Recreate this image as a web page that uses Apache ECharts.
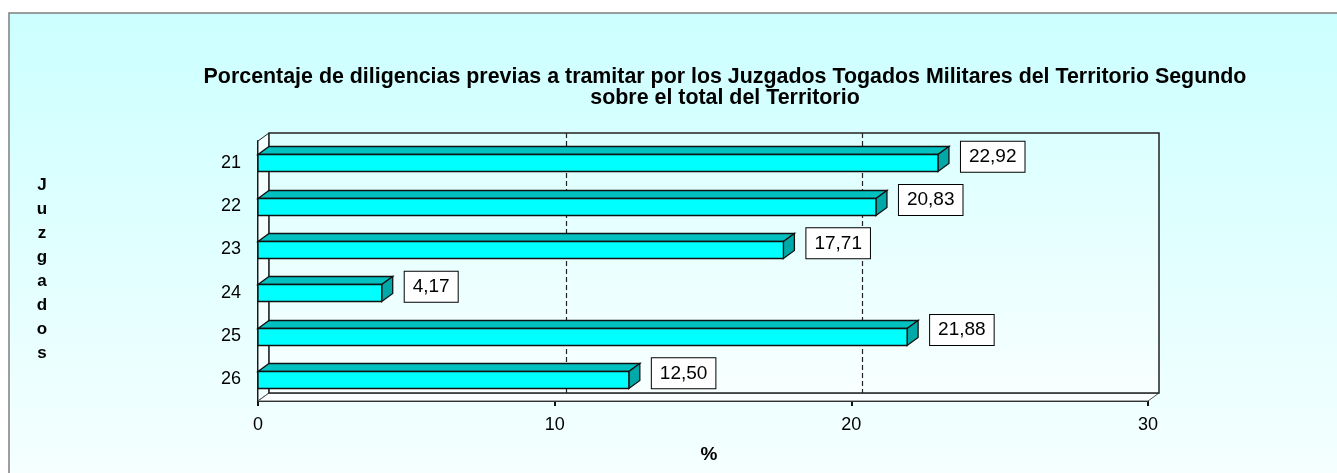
<!DOCTYPE html>
<html style="height: 100%">
<head>
    <meta charset="utf-8">
    <title>Juzgados Togados Militares - Territorio Segundo</title>
    <script type="text/javascript" src="https://cdn.jsdelivr.net/npm/echarts@6/dist/echarts.min.js"></script>
</head>
<body style="height: 100%; margin: 0; background: #fff;">
<div id="container" style="width: 1337px; height: 473px"></div>
<script type="text/javascript">
    // datos del grafico
    var categories = ['21', '22', '23', '24', '25', '26'];
    var values = [22.92, 20.83, 17.71, 4.17, 21.88, 12.50];
    var xMin = 0, xMax = 30, xStep = 10;
    var gridTicks = [10, 20];

    var FONT = "'Liberation Sans', Arial, sans-serif";
    // desplazamiento de la profundidad 3D
    var DX = 11, DY = -8;

    function fmt(v) {
        return v.toFixed(2).replace('.', ',');
    }

    // paredes: fondo, lateral y suelo
    function renderWalls(params, api) {
        var cs = params.coordSys;
        var x = cs.x, y = cs.y, w = cs.width, h = cs.height;
        var children = [];
        children.push({
            type: 'polygon',
            shape: {points: [[x, y], [x + DX, y + DY], [x + DX, y + h + DY], [x, y + h]]},
            style: {fill: '#f4ffff', stroke: '#222', lineWidth: 1}
        });
        children.push({
            type: 'polygon',
            shape: {points: [[x, y + h], [x + DX, y + h + DY], [x + w + DX, y + h + DY], [x + w, y + h]]},
            style: {fill: '#fbffff', stroke: '#555', lineWidth: 1}
        });
        children.push({
            type: 'rect',
            shape: {x: x + DX, y: y + DY, width: w, height: h},
            style: {
                fill: new echarts.graphic.LinearGradient(0, 0, 0, 1, [
                    {offset: 0, color: '#dcffff'},
                    {offset: 1, color: '#f8ffff'}
                ]),
                stroke: '#222', lineWidth: 1.5
            }
        });
        for (var i = 0; i < gridTicks.length; i++) {
            var gx = Math.round(api.coord([gridTicks[i], 0])[0] + DX) + 0.5;
            children.push({
                type: 'line',
                shape: {x1: gx, y1: y + DY, x2: gx, y2: y + h + DY},
                style: {stroke: '#222', lineWidth: 1.2, lineDash: [5, 3]}
            });
        }
        return {type: 'group', children: children};
    }

    // barras 3D
    function renderBar(params, api) {
        var v = api.value(0);
        var c = api.value(1);
        var start = api.coord([0, c]);
        var end = api.coord([v, c]);
        var band = api.size([0, 1])[1];
        var h = Math.round(band * 0.39);
        var x0 = start[0], x1 = end[0];
        var yt = Math.round(end[1] - h / 2) + 0.5;
        var line = {stroke: '#111', lineWidth: 1.3};
        return {
            type: 'group',
            children: [
                {
                    type: 'polygon',
                    shape: {points: [[x0, yt], [x0 + DX, yt + DY], [x1 + DX, yt + DY], [x1, yt]]},
                    style: Object.assign({fill: '#00c0c0'}, line)
                },
                {
                    type: 'polygon',
                    shape: {points: [[x1, yt], [x1 + DX, yt + DY], [x1 + DX, yt + h + DY], [x1, yt + h]]},
                    style: Object.assign({fill: '#00a8a8'}, line)
                },
                {
                    type: 'rect',
                    shape: {x: x0, y: yt, width: x1 - x0, height: h},
                    style: Object.assign({fill: '#00ffff'}, line)
                },
                {
                    type: 'text',
                    x: x1 + DX + 12,
                    y: end[1] - 6,
                    style: {
                        text: fmt(v),
                        font: '19px ' + FONT,
                        fill: '#000',
                        align: 'left',
                        verticalAlign: 'middle',
                        backgroundColor: '#fff',
                        borderColor: '#000',
                        borderWidth: 1,
                        padding: [6, 8, 5, 8]
                    }
                }
            ]
        };
    }

    var dom = document.getElementById("container");
    var myChart = echarts.init(dom);
    var option = {
        animation: false,
        backgroundColor: '#fff',
        textStyle: {fontFamily: FONT},
        graphic: [
            {
                type: 'rect',
                z: -10,
                shape: {x: 9, y: 13, width: 1340, height: 470},
                style: {
                    fill: new echarts.graphic.LinearGradient(0, 0, 0, 1, [
                        {offset: 0, color: '#ccffff'},
                        {offset: 1, color: '#f6ffff'}
                    ]),
                    stroke: '#7f7f7f', lineWidth: 1.5
                }
            },
            {
                type: 'text',
                x: 725, y: 67,
                style: {
                    text: 'Porcentaje de diligencias previas a tramitar por los Juzgados Togados Militares del Territorio Segundo\nsobre el total del Territorio',
                    font: 'bold 21.4px ' + FONT,
                    lineHeight: 21,
                    fill: '#000',
                    align: 'center',
                    verticalAlign: 'top'
                }
            },
            {
                type: 'text',
                x: 42, y: 269,
                style: {
                    text: 'J\nu\nz\ng\na\nd\no\ns',
                    font: 'bold 17px ' + FONT,
                    lineHeight: 24,
                    fill: '#000',
                    align: 'center',
                    verticalAlign: 'middle'
                }
            },
            {
                type: 'text',
                x: 709, y: 455,
                style: {
                    text: '%',
                    font: 'bold 19px ' + FONT,
                    fill: '#000',
                    align: 'center',
                    verticalAlign: 'middle'
                }
            }
        ],
        grid: {left: 258, top: 141, width: 890, height: 260},
        xAxis: {
            type: 'value',
            min: xMin,
            max: xMax,
            interval: xStep,
            axisLine: {show: true, lineStyle: {color: '#111', width: 2}},
            axisTick: {show: true, length: 5, lineStyle: {color: '#111', width: 2}},
            axisLabel: {margin: 15, fontSize: 18, color: '#000', fontFamily: FONT},
            splitLine: {show: false}
        },
        yAxis: {
            type: 'category',
            data: categories,
            inverse: true,
            axisLine: {show: true, lineStyle: {color: '#111', width: 2}},
            axisTick: {show: false},
            axisLabel: {margin: 17, fontSize: 18, color: '#000', fontFamily: FONT},
            splitLine: {show: false}
        },
        series: [
            {
                type: 'custom',
                z: 1,
                silent: true,
                renderItem: renderWalls,
                data: [[0, 0]],
                encode: {x: 0, y: 1}
            },
            {
                type: 'custom',
                z: 3,
                silent: true,
                renderItem: renderBar,
                data: values.map(function (v, i) { return [v, i]; }),
                encode: {x: 0, y: 1}
            }
        ]
    };
    myChart.setOption(option, true);
</script>
</body>
</html>
